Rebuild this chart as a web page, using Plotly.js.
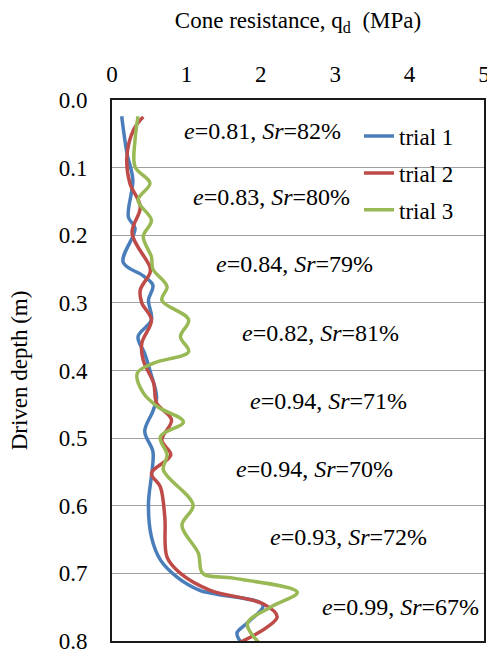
<!DOCTYPE html>
<html>
<head>
<meta charset="utf-8">
<script src="https://cdn.plot.ly/plotly-3.0.1.min.js"></script>
<style>html,body{margin:0;padding:0;background:#fff}#chart{width:487px;height:650px}</style>
</head>
<body>
<div id="chart"></div>
<script>
// Trial 1 (blue)
const trial1Depth = [0.024,0.078,0.118,0.173,0.19,0.24,0.26,0.274,0.296,0.325,0.35,0.375,0.4,0.44,0.46,0.49,0.52,0.547,0.597,0.646,0.68,0.705,0.725,0.747,0.773,0.788,0.8];
const trial1Q     = [0.13,0.2,0.28,0.22,0.31,0.15,0.42,0.55,0.49,0.53,0.35,0.44,0.51,0.6,0.55,0.44,0.55,0.54,0.49,0.53,0.65,0.87,1.18,2.03,1.82,1.68,1.72];
// Trial 2 (red)
const trial2Depth = [0.025,0.044,0.084,0.123,0.158,0.197,0.247,0.256,0.281,0.3,0.325,0.36,0.385,0.419,0.448,0.473,0.503,0.525,0.552,0.572,0.617,0.676,0.7,0.725,0.745,0.764,0.78,0.802];
const trial2Q     = [0.42,0.29,0.2,0.24,0.38,0.27,0.51,0.51,0.38,0.4,0.53,0.4,0.42,0.56,0.6,0.8,0.67,0.79,0.53,0.65,0.71,0.74,0.92,1.32,2.03,2.22,2.08,1.72];
// Trial 3 (green)
const trial3Depth = [0.024,0.059,0.099,0.123,0.148,0.178,0.202,0.232,0.25,0.276,0.296,0.325,0.35,0.372,0.389,0.404,0.433,0.454,0.476,0.498,0.525,0.547,0.599,0.629,0.67,0.7,0.707,0.728,0.75,0.774,0.802];
const trial3Q     = [0.35,0.31,0.31,0.51,0.35,0.53,0.42,0.53,0.55,0.74,0.67,1.03,0.92,1.03,0.56,0.34,0.42,0.62,0.96,0.65,0.74,0.69,1.09,0.94,1.16,1.22,1.63,2.49,2.13,1.82,1.97];

const seriesNames = ['trial 1','trial 2','trial 3'];
const seriesColors = ['#4a7ebb','#be4b48','#98b954'];

// Annotations: void ratio and degree of saturation per layer
const labelE   = ['0.81','0.83','0.84','0.82','0.94','0.94','0.93','0.99'];
const labelSr  = ['82','80','79','81','71','70','72','67'];
const labelX   = [2.02,2.15,2.45,2.8,2.91,2.72,3.18,3.88];
const labelY   = [0.046,0.143,0.243,0.345,0.445,0.546,0.646,0.749];

const xTicks = [0,1,2,3,4,5];
const yTicks = [0,0.1,0.2,0.3,0.4,0.5,0.6,0.7,0.8];
const yTickText = ['0.0','0.1','0.2','0.3','0.4','0.5','0.6','0.7','0.8'];

const xs = [trial1Q, trial2Q, trial3Q];
const ys = [trial1Depth, trial2Depth, trial3Depth];

const traces = seriesNames.map((n,i)=>({
  x: xs[i], y: ys[i], name: n, mode: 'lines', type: 'scatter',
  line: {color: seriesColors[i], width: 3.5, shape: 'spline', smoothing: 1},
  legendgroup: 'g'+i, cliponaxis: true
}));

const font = 'Liberation Serif';

const annotations = labelE.map((e,i)=>({
  x: labelX[i], y: labelY[i], xref: 'x', yref: 'y', showarrow: false,
  text: '<i>e</i>=' + e + ', <i>Sr</i>=' + labelSr[i] + '%',
  font: {family: font, size: 24, color: '#000'},
  xanchor: 'center', yanchor: 'middle'
}));

const layout = {
  width: 487, height: 650,
  margin: {l: 112, r: 3, t: 100, b: 9},
  paper_bgcolor: '#fff', plot_bgcolor: '#fff',
  font: {family: font, size: 23, color: '#000'},
  showlegend: true,
  legend: {x: 0.664, y: 0.973, xanchor: 'left', yanchor: 'top', bgcolor: 'rgba(0,0,0,0)',
           font: {family: font, size: 23, color: '#000'}, traceorder: 'grouped', tracegroupgap: 4},
  xaxis: {
    side: 'top', range: [0,5], tickvals: xTicks, ticktext: xTicks.map(String),
    showgrid: false, zeroline: false, showline: true, linecolor: '#1a1a1a', linewidth: 1.8, mirror: true,
    ticks: '', ticklabelstandoff: 7, ticklabeloverflow: 'allow',
    tickfont: {family: font, size: 23},
    title: {text: 'Cone resistance, q<sub>d</sub>  (MPa)', font: {family: font, size: 23}, standoff: 27},
    fixedrange: true
  },
  yaxis: {
    range: [0.8, 0], tickvals: yTicks, ticktext: yTickText,
    showgrid: true, gridcolor: '#a0a0a0', gridwidth: 1.2, zeroline: false,
    showline: true, linecolor: '#1a1a1a', linewidth: 1.8, mirror: true,
    ticks: '', ticklabelstandoff: 18, ticklabeloverflow: 'allow',
    tickfont: {family: font, size: 23},
    title: {text: 'Driven depth (m)', font: {family: font, size: 23}, standoff: 25},
    fixedrange: true
  },
  annotations: annotations
};

Plotly.newPlot('chart', traces, layout, {staticPlot: true, displayModeBar: false});
</script>
</body>
</html>
